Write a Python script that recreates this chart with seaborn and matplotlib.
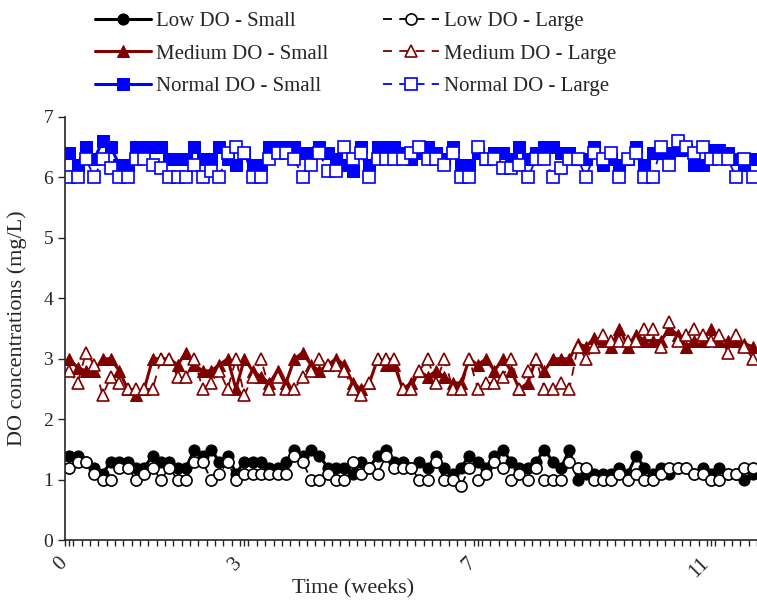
import numpy as np
import pandas as pd
import matplotlib
matplotlib.use("Agg")
import matplotlib.pyplot as plt
import matplotlib.transforms as mtransforms
import seaborn as sns
from matplotlib.ticker import FixedLocator

# daily readings, 83 days
days = np.arange(83)
week_ticks = [0, 3, 7, 11]

low_small = [1.4, 1.4, 1.3, 1.2, 1.1, 1.3, 1.3, 1.3, 1.2, 1.2,
             1.4, 1.3, 1.3, 1.2, 1.2, 1.5, 1.4, 1.5, 1.3, 1.4,
             1.1, 1.3, 1.3, 1.3, 1.2, 1.2, 1.3, 1.5, 1.4, 1.5,
             1.4, 1.2, 1.2, 1.2, 1.1, 1.3, 1.2, 1.4, 1.5, 1.3,
             1.3, 1.2, 1.3, 1.2, 1.4, 1.2, 1.1, 1.2, 1.4, 1.3,
             1.2, 1.4, 1.5, 1.3, 1.2, 1.2, 1.3, 1.5, 1.3, 1.2,
             1.5, 1.0, 1.1, 1.1, 1.1, 1.1, 1.2, 1.1, 1.4, 1.2,
             1.1, 1.2, 1.1, 1.2, 1.2, 1.1, 1.2, 1.1, 1.2, 1.1,
             1.1, 1.0, 1.1]
low_large = [1.2, 1.3, 1.3, 1.1, 1.0, 1.0, 1.2, 1.2, 1.0, 1.1,
             1.2, 1.0, 1.2, 1.0, 1.0, 1.3, 1.3, 1.0, 1.1, 1.3,
             1.0, 1.1, 1.1, 1.1, 1.1, 1.1, 1.1, 1.4, 1.3, 1.0,
             1.0, 1.1, 1.0, 1.0, 1.3, 1.1, 1.2, 1.1, 1.4, 1.2,
             1.2, 1.2, 1.0, 1.0, 1.3, 1.0, 1.0, 0.9, 1.2, 1.0,
             1.1, 1.3, 1.2, 1.0, 1.1, 1.0, 1.2, 1.0, 1.0, 1.0,
             1.3, 1.2, 1.2, 1.0, 1.0, 1.0, 1.1, 1.0, 1.1, 1.0,
             1.0, 1.1, 1.2, 1.2, 1.2, 1.1, 1.1, 1.0, 1.0, 1.1,
             1.1, 1.2, 1.2]
med_small = [3.0, 2.85, 2.8, 2.8, 3.0, 3.0, 2.8, 2.5, 2.4, 2.5,
             3.0, 3.0, 3.0, 2.9, 3.1, 2.9, 2.8, 2.8, 2.9, 3.0,
             2.5, 3.0, 2.8, 2.7, 2.6, 2.8, 2.6, 3.0, 3.1, 2.9,
             2.8, 2.9, 3.0, 2.9, 2.6, 2.5, 2.6, 3.0, 2.9, 2.9,
             2.5, 2.6, 2.8, 2.7, 2.8, 2.7, 2.6, 2.6, 3.0, 2.9,
             3.0, 2.8, 3.0, 2.8, 2.5, 2.6, 3.0, 2.8, 3.0, 3.0,
             3.0, 3.25, 3.2, 3.35, 3.3, 3.2, 3.5, 3.2, 3.4, 3.3,
             3.3, 3.3, 3.5, 3.4, 3.2, 3.3, 3.3, 3.5, 3.3, 3.3,
             3.3, 3.25, 3.2]
med_large = [2.8, 2.6, 3.1, 2.9, 2.4, 2.7, 2.6, 2.5, 2.5, 2.5,
             2.5, 3.0, 3.0, 2.7, 2.7, 3.0, 2.5, 2.6, 2.8, 2.5,
             3.0, 2.4, 2.7, 3.0, 2.5, 2.7, 2.5, 2.5, 2.7, 2.8,
             3.0, 2.9, 2.9, 2.8, 2.5, 2.4, 2.6, 3.0, 3.0, 3.0,
             2.5, 2.5, 2.8, 3.0, 2.6, 3.0, 2.5, 2.5, 3.0, 2.5,
             2.6, 2.6, 2.7, 3.0, 2.5, 2.8, 3.0, 2.5, 2.5, 2.6,
             2.5, 3.2, 3.0, 3.2, 3.4, 3.3, 3.3, 3.3, 3.3, 3.5,
             3.5, 3.2, 3.6, 3.3, 3.4, 3.5, 3.4, 3.3, 3.4, 3.1,
             3.4, 3.2, 3.0]
norm_small = [6.4, 6.2, 6.5, 6.3, 6.6, 6.5, 6.2, 6.2, 6.5, 6.5,
              6.5, 6.5, 6.3, 6.3, 6.3, 6.5, 6.3, 6.3, 6.5, 6.3,
              6.2, 6.4, 6.2, 6.2, 6.5, 6.5, 6.5, 6.5, 6.4, 6.4,
              6.5, 6.4, 6.3, 6.2, 6.1, 6.5, 6.2, 6.5, 6.5, 6.5,
              6.4, 6.3, 6.4, 6.5, 6.4, 6.3, 6.5, 6.2, 6.2, 6.4,
              6.3, 6.4, 6.4, 6.3, 6.5, 6.3, 6.4, 6.5, 6.5, 6.4,
              6.4, 6.3, 6.3, 6.5, 6.2, 6.3, 6.2, 6.3, 6.5, 6.2,
              6.4, 6.4, 6.4, 6.45, 6.45, 6.2, 6.2, 6.45, 6.45, 6.4,
              6.3, 6.2, 6.3]
norm_large = [6.0, 6.0, 6.3, 6.0, 6.3, 6.15, 6.0, 6.0, 6.3, 6.3,
              6.2, 6.15, 6.0, 6.0, 6.0, 6.2, 6.0, 6.1, 6.0, 6.4,
              6.5, 6.4, 6.0, 6.0, 6.3, 6.4, 6.4, 6.3, 6.0, 6.2,
              6.4, 6.1, 6.1, 6.5, 6.3, 6.4, 6.0, 6.3, 6.3, 6.3,
              6.3, 6.4, 6.5, 6.3, 6.3, 6.2, 6.4, 6.0, 6.0, 6.5,
              6.3, 6.3, 6.15, 6.15, 6.2, 6.0, 6.3, 6.3, 6.0, 6.15,
              6.3, 6.3, 6.0, 6.4, 6.3, 6.4, 6.0, 6.3, 6.4, 6.0,
              6.0, 6.5, 6.2, 6.6, 6.5, 6.4, 6.5, 6.3, 6.3, 6.3,
              6.0, 6.3, 6.0]

series = [
    ("Low DO - Small", low_small, "black", "o", True),
    ("Medium DO - Small", med_small, "#800000", "^", True),
    ("Normal DO - Small", norm_small, "#0000FF", "s", True),
    ("Low DO - Large", low_large, "black", "o", False),
    ("Medium DO - Large", med_large, "#800000", "^", False),
    ("Normal DO - Large", norm_large, "#0000FF", "s", False),
]

sns.set_style("ticks")
plt.rcParams["font.family"] = ["Liberation Serif", "DejaVu Serif"]

fig = plt.figure(figsize=(7.57, 6.05), dpi=100)
ax = fig.add_axes([0.086, 0.107, 0.914, 0.7])

for name, vals, col, mk, filled in series:
    df = pd.DataFrame({"day": days, "do": vals})
    if filled:
        sns.lineplot(data=df, x="day", y="do", ax=ax, color=col, marker=mk,
                     linewidth=2.2, markersize=8,
                     markerfacecolor=col, markeredgecolor=col, label=name)
    else:
        sns.lineplot(data=df, x="day", y="do", ax=ax, color=col, marker=mk,
                     linewidth=1.3, markersize=8, dashes=(5, 4),
                     markerfacecolor="white", markeredgecolor=col,
                     markeredgewidth=1.2, label=name)

ax.set_xlim(-0.5, 82.5)
ax.set_ylim(0, 7)
ax.set_yticks(range(0, 8))
ax.xaxis.set_major_locator(FixedLocator([w * 7 for w in week_ticks]))
ax.xaxis.set_minor_locator(FixedLocator(np.arange(-0.5, 83, 1)))
ax.tick_params(axis="x", which="both", direction="out", length=4, width=1,
               labelsize=15, pad=6)
ax.tick_params(axis="y", direction="out", length=5, width=1, labelsize=14)
ax.set_xticklabels([str(w) for w in week_ticks], rotation=45,
                   ha="right", rotation_mode="anchor")
shift = mtransforms.ScaledTranslation(-0.12, 0, fig.dpi_scale_trans)
for lbl in ax.get_xticklabels():
    lbl.set_transform(lbl.get_transform() + shift)
ax.set_xlabel("Time (weeks)", fontsize=16)
ax.set_ylabel("DO concentrations (mg/L)", fontsize=16)
ax.xaxis.set_label_coords(0.416, -0.093)
ax.yaxis.set_label_coords(-0.055, 0.5)
for sp in ["top", "right"]:
    ax.spines[sp].set_visible(False)
for sp in ["left", "bottom"]:
    ax.spines[sp].set_linewidth(1.2)

handles, labels = ax.get_legend_handles_labels()
ax.legend_.remove()
fig.legend(handles, labels, ncol=2, loc="upper center",
           bbox_to_anchor=(0.47, 1.012), frameon=False, fontsize=15,
           handlelength=2.7, handletextpad=0.25, columnspacing=2.6,
           labelspacing=0.62)

fig.savefig("out.png", dpi=100)
